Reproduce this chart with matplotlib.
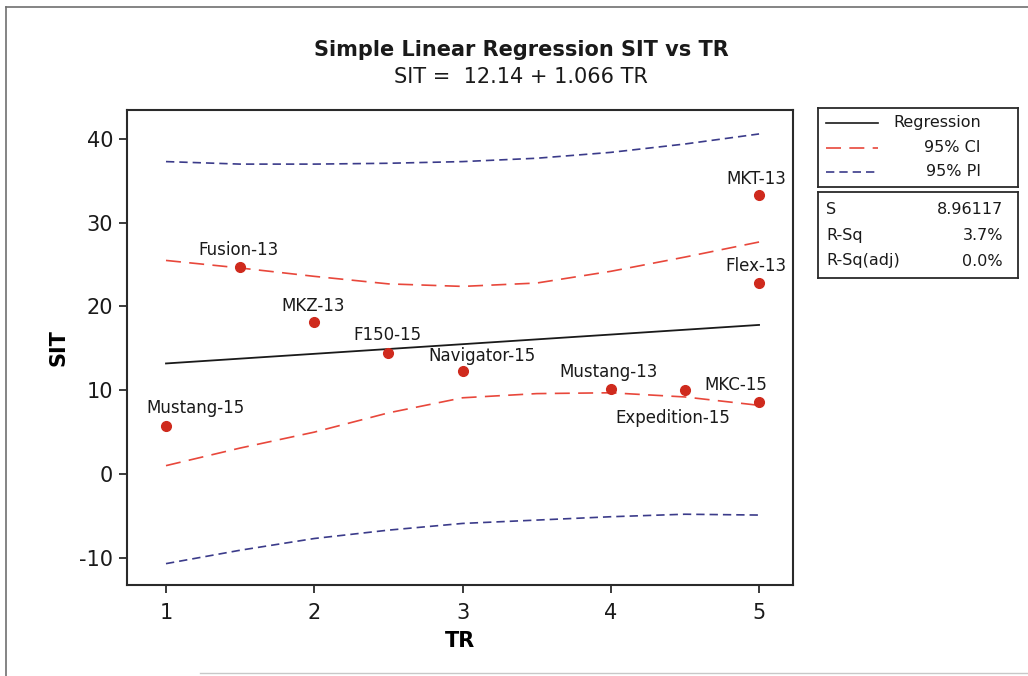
import matplotlib
matplotlib.use("Agg")
import matplotlib.pyplot as plt
from matplotlib.lines import Line2D

plt.rcParams['font.family'] = ['DejaVu Sans']
plt.rcParams['axes.unicode_minus'] = False

# fitted points
tr = [1, 1.5, 2, 2.5, 3, 4, 4.5, 5, 5, 5]
sit = [5.7, 24.7, 18.1, 14.4, 12.3, 10.2, 10.0, 8.6, 22.8, 33.3]
names = ['Mustang-15', 'Fusion-13', 'MKZ-13', 'F150-15', 'Navigator-15',
         'Mustang-13', 'Expedition-15', 'MKC-15', 'Flex-13', 'MKT-13']

# regression line and bands
reg_x = [1, 5]
reg_y = [13.2, 17.8]
band_x = [1, 1.5, 2, 2.5, 3, 3.5, 4, 4.5, 5]
ci_hi = [25.5, 24.6, 23.6, 22.7, 22.4, 22.8, 24.2, 25.9, 27.7]
ci_lo = [1.0, 3.1, 5.0, 7.3, 9.1, 9.6, 9.7, 9.2, 8.2]
pi_hi = [37.3, 37.0, 37.0, 37.1, 37.3, 37.7, 38.4, 39.4, 40.6]
pi_lo = [-10.7, -9.1, -7.7, -6.7, -5.9, -5.5, -5.1, -4.8, -4.9]

stat_names = ['S', 'R-Sq', 'R-Sq(adj)']
stat_vals = ['8.96117', '3.7%', '0.0%']

# label offsets in pixels (dx, dy) relative to each point
lab_off = [(30, 18), (-2, 17), (-1, 16), (-1, 18), (19, 15),
           (-2, 17), (-12, -28), (-23, 17), (-3, 17), (-3, 16)]

W, H = 1028, 676
fig = plt.figure(figsize=(W / 100, H / 100), dpi=100)

def fx(px):
    return px / W

def fy(py):
    return 1 - py / H

# page border (scan frame)
fig.add_artist(Line2D([fx(6), 1], [fy(7), fy(7)], color='#707070', lw=1.2))
fig.add_artist(Line2D([fx(6), fx(6)], [fy(7), 0], color='#707070', lw=1.2))
fig.add_artist(Line2D([fx(200), 1], [fy(673), fy(673)], color='#c8c8c8', lw=1.0))

ax = fig.add_axes([fx(127), fy(585), fx(793) - fx(127), fy(110) - fy(585)])

red = '#e8473b'
navy = '#3b3b8a'
ax.plot(band_x, pi_hi, color=navy, lw=1.2, dashes=(5, 3))
ax.plot(band_x, pi_lo, color=navy, lw=1.2, dashes=(5, 3))
ax.plot(band_x, ci_hi, color=red, lw=1.2, dashes=(9, 5))
ax.plot(band_x, ci_lo, color=red, lw=1.2, dashes=(9, 5))
ax.plot(reg_x, reg_y, color='#1a1a1a', lw=1.3)
ax.plot(tr, sit, 'o', color='#cf2a1d', ms=7, zorder=5)

for x, y, n, off in zip(tr, sit, names, lab_off):
    ax.annotate(n, (x, y), xytext=off, textcoords='offset pixels',
                ha='center', va='center', fontsize=12, color='#1a1a1a')

ax.set_xlim(0.737, 5.229)
ax.set_ylim(-13.25, 43.46)
ax.set_xticks([1, 2, 3, 4, 5])
ax.set_yticks([-10, 0, 10, 20, 30, 40])
ax.tick_params(direction='out', length=6, width=1.2, labelsize=15,
               colors='#1a1a1a')
ax.tick_params(axis='x', pad=7)
ax.tick_params(axis='y', pad=4)
for s in ax.spines.values():
    s.set_linewidth(1.5)
    s.set_color('#2a2a2a')
ax.set_xlabel('TR', fontsize=15, fontweight='bold', labelpad=6)
ax.set_ylabel('SIT', fontsize=15, fontweight='bold', labelpad=8)

fig.text(fx(521), fy(50), 'Simple Linear Regression SIT vs TR', ha='center',
         va='center', fontsize=15, fontweight='bold', color='#1a1a1a')
fig.text(fx(521), fy(77), 'SIT =  12.14 + 1.066 TR', ha='center',
         va='center', fontsize=15, color='#1a1a1a')

# legend box
leg = fig.add_axes([fx(818), fy(187), fx(1018) - fx(818), fy(108) - fy(187)])
leg.set_xlim(0, 200)
leg.set_ylim(79, 0)
leg.set_xticks([])
leg.set_yticks([])
for s in leg.spines.values():
    s.set_linewidth(1.3)
    s.set_color('#2a2a2a')
leg_items = [('Regression', '#1a1a1a', None),
             ('95% CI', red, (9, 5)),
             ('95% PI', navy, (5, 3))]
for i, (lbl, c, d) in enumerate(leg_items):
    yy = 15 + i * 24.5
    ln, = leg.plot([8, 60], [yy, yy], color=c, lw=1.2)
    if d:
        ln.set_dashes(d)
    leg.text(163, yy, lbl, ha='right', va='center', fontsize=11.5, color='#1a1a1a')

# stats box
st = fig.add_axes([fx(818), fy(278), fx(1018) - fx(818), fy(192) - fy(278)])
st.set_xlim(0, 200)
st.set_ylim(86, 0)
st.set_xticks([])
st.set_yticks([])
for s in st.spines.values():
    s.set_linewidth(1.3)
    s.set_color('#2a2a2a')
for i, (n, v) in enumerate(zip(stat_names, stat_vals)):
    yy = 18 + i * 25.5
    st.text(8, yy, n, ha='left', va='center', fontsize=11.5, color='#1a1a1a')
    st.text(185, yy, v, ha='right', va='center', fontsize=11.5, color='#1a1a1a')

fig.savefig('out.png', dpi=100, facecolor='white')
